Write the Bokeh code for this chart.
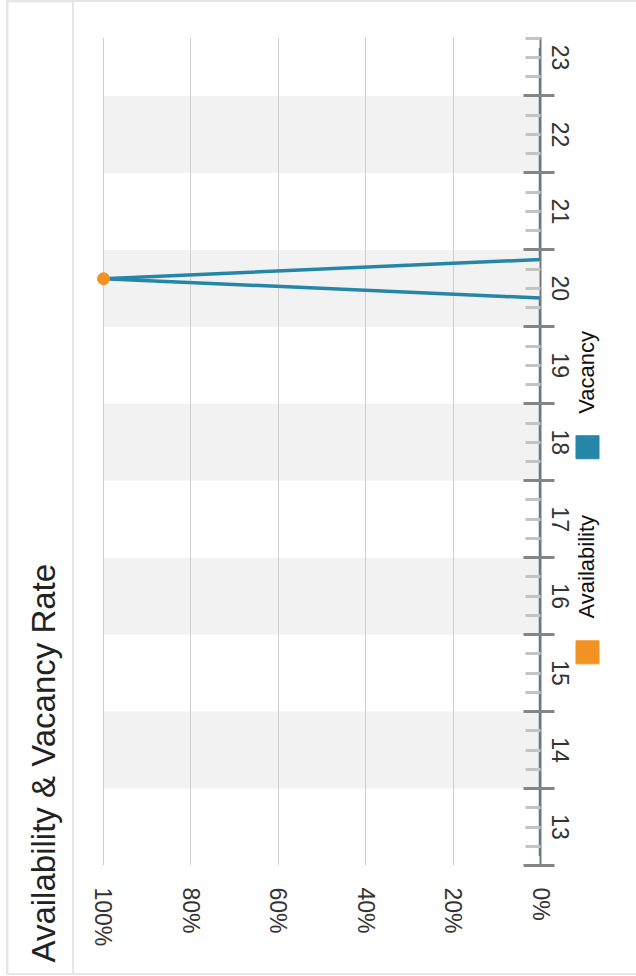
import math
from bokeh.plotting import figure
from bokeh.layouts import row
from bokeh.models import Range1d, FixedTicker, LinearAxis
from bokeh.core.properties import value
from bokeh.embed import file_html
from bokeh.resources import INLINE

# ---------------- data ----------------
hours = [12.625, 12.875, 13.125, 13.375, 13.625, 13.875, 14.125, 14.375, 14.625, 14.875,
         15.125, 15.375, 15.625, 15.875, 16.125, 16.375, 16.625, 16.875, 17.125, 17.375,
         17.625, 17.875, 18.125, 18.375, 18.625, 18.875, 19.125, 19.375, 19.625, 19.875,
         20.125, 20.375, 20.625, 20.875, 21.125, 21.375, 21.625, 21.875, 22.125, 22.375,
         22.625, 22.875, 23.125]
vacancy = [0, 0, 0, 0, 0, 0, 0, 0, 0, 0,
           0, 0, 0, 0, 0, 0, 0, 0, 0, 0,
           0, 0, 0, 0, 0, 0, 0, 0, 0, 0,
           100, 0, 0, 0, 0, 0, 0, 0, 0, 0,
           0, 0, 0]
avail_hours = [20.125]
availability = [100]

hour_ticks = [13, 14, 15, 16, 17, 18, 19, 20, 21, 22, 23]
hour_labels = ["13", "14", "15", "16", "17", "18", "19", "20", "21", "22", "23"]
hour_bounds = [12.5, 13.5, 14.5, 15.5, 16.5, 17.5, 18.5, 19.5, 20.5, 21.5, 22.5]
band_hours = [14, 16, 18, 20, 22]
pct_ticks = [0, 20, 40, 60, 80, 100]
pct_labels = ["0%", "20%", "40%", "60%", "80%", "100%"]
series_names = ["Availability", "Vacancy"]
title_text = "Availability & Vacancy Rate"

# ---------------- styles ----------------
ORANGE = "#f39224"
BLUE = "#2586a8"
FONT = "Liberation Sans"
FRAME_GRAY = "#e6e6e6"
H = 971

hour_minor = [h + q for h in range(12, 24) for q in (0.0, 0.25, 0.75)
              if 12.75 <= h + q <= 23.25]

# ---------------- title panel ----------------
pt = figure(width=64, height=H, x_range=Range1d(0, 64), y_range=Range1d(0, H),
            x_axis_location=None, y_axis_location=None,
            output_backend="svg", toolbar_location=None, min_border=0,
            outline_line_color=None, background_fill_color="white",
            border_fill_color="white")
pt.grid.visible = False
pt.text(x=[35], y=[11], text=[title_text], angle=math.pi / 2,
        text_align="left", text_baseline="alphabetic",
        text_font=value(FONT), text_font_size="33px", text_color="#222222")

# ---------------- chart ----------------
y_hours = Range1d(12.5, 23.26)
p = figure(width=499, height=H,
           x_range=Range1d(101.6, 0), y_range=y_hours,
           x_axis_location="below", y_axis_location="right",
           output_backend="svg", toolbar_location=None,
           min_border_left=22, min_border_right=33,
           min_border_top=35, min_border_bottom=108,
           outline_line_color=None,
           background_fill_color="white", border_fill_color="white")

# percent axis (below, rotated labels)
ax_pct = p.xaxis[0]
ax_pct.ticker = FixedTicker(ticks=pct_ticks)
ax_pct.major_label_overrides = {t: l for t, l in zip(pct_ticks, pct_labels)}
ax_pct.major_label_orientation = "vertical"
ax_pct.axis_line_color = None
ax_pct.major_tick_line_color = None
ax_pct.major_tick_in = 0
ax_pct.major_tick_out = 0
ax_pct.minor_tick_line_color = None
ax_pct.major_label_standoff = 22
ax_pct.major_label_text_font = FONT
ax_pct.major_label_text_font_size = "23px"
ax_pct.major_label_text_color = "#333333"

# hour axis: inner axis carries the line and tick marks
ax_hb = p.yaxis[0]
ax_hb.ticker = FixedTicker(ticks=hour_bounds, minor_ticks=hour_minor)
ax_hb.axis_line_color = "#777777"
ax_hb.axis_line_width = 2
ax_hb.major_tick_line_color = "#858585"
ax_hb.major_tick_line_width = 3
ax_hb.major_tick_in = 17
ax_hb.major_tick_out = 14
ax_hb.minor_tick_line_color = "#c4c4c4"
ax_hb.minor_tick_line_width = 3
ax_hb.minor_tick_in = 15
ax_hb.minor_tick_out = 0
ax_hb.major_label_overrides = {b: "" for b in hour_bounds}
ax_hb.major_label_text_font_size = "0px"
ax_hb.major_label_standoff = 0

# hour axis: outer axis carries the labels
ax_hl = LinearAxis(ticker=FixedTicker(ticks=hour_ticks),
                   major_label_overrides={t: l for t, l in zip(hour_ticks, hour_labels)},
                   axis_line_color=None, major_tick_line_color=None,
                   major_tick_in=0, major_tick_out=0, minor_tick_line_color=None,
                   minor_tick_in=0, minor_tick_out=0,
                   major_label_orientation="vertical", major_label_standoff=-3,
                   major_label_text_font=FONT, major_label_text_font_size="23px",
                   major_label_text_color="#333333")
p.add_layout(ax_hl, "right")

# grids
p.xgrid.ticker = FixedTicker(ticks=[20, 40, 60, 80, 100])
p.xgrid.grid_line_color = "#cfcfcf"
p.xgrid.grid_line_width = 1
p.ygrid.visible = False

# alternating hour bands (below grid lines)
p.hbar(y=band_hours, height=1, left=100, right=0, fill_color="#f2f2f2",
       line_color=None, level="image")

# series
p.line(vacancy, hours, line_color=BLUE, line_width=3.5)
p.scatter(availability, avail_hours, size=12, fill_color=ORANGE, line_color=ORANGE)

# ---------------- legend panel (shares the hour scale) ----------------
pl = figure(width=63, height=H, x_range=Range1d(0, 63), y_range=y_hours,
            x_axis_location=None, y_axis_location=None,
            output_backend="svg", toolbar_location=None,
            min_border_left=0, min_border_right=0,
            min_border_top=35, min_border_bottom=108,
            outline_line_color=None, background_fill_alpha=0,
            border_fill_alpha=0)
pl.grid.visible = False
legend_sq_y = [15.27, 17.935]
legend_txt_y = [15.71, 18.37]
pl.scatter(x=[14, 14], y=legend_sq_y, marker="square", size=23,
           fill_color=[ORANGE, BLUE], line_color=[ORANGE, BLUE])
pl.text(x=[13, 13], y=legend_txt_y, text=series_names, angle=math.pi / 2,
        text_align="left", text_baseline="alphabetic",
        text_font=value(FONT), text_font_size="22px", text_color="#111111")

inner = row(p, pl, spacing=0, styles={"background-color": "white"})
root = row(pt, inner, spacing=2, margin=(0, 0, 0, 6),
           styles={"background-color": FRAME_GRAY, "padding": "2px 0px 2px 2px"})

open("out.html", "w").write(file_html(root, INLINE))
